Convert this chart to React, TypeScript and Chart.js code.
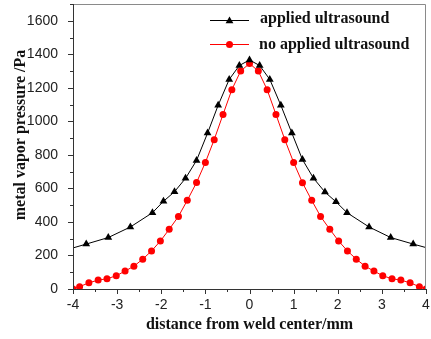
import React, { useEffect, useRef } from "react";
import { Chart, registerables } from "chart.js";

Chart.register(...registerables);

// Series: applied ultrasound (black triangles)
const xApplied = [-4, -3.7, -3.2, -2.7, -2.2, -1.95, -1.7, -1.45, -1.2, -0.95, -0.71, -0.46, -0.23, 0, 0.23, 0.46, 0.71, 0.96, 1.2, 1.45, 1.71, 1.96, 2.21, 2.71, 3.2, 3.71, 4];
const yApplied = [245, 268, 307, 370, 455, 523, 580, 660, 767, 930, 1096, 1250, 1333, 1366, 1333, 1250, 1096, 930, 772, 661, 578, 520, 455, 370, 307, 268, 247];

// Series: no applied ultrasound (red circles)
const xNone = [-4, -3.85, -3.64, -3.43, -3.23, -3.02, -2.82, -2.62, -2.42, -2.22, -2.02, -1.82, -1.61, -1.41, -1.2, -1.0, -0.8, -0.6, -0.4, -0.2, 0, 0.2, 0.4, 0.6, 0.8, 1.0, 1.2, 1.41, 1.61, 1.82, 2.02, 2.22, 2.42, 2.62, 2.82, 3.02, 3.23, 3.43, 3.64, 3.85, 4];
const yNone = [0, 14, 37, 53, 61, 79, 107, 136, 178, 227, 286, 356, 433, 529, 635, 755, 891, 1041, 1189, 1300, 1345, 1300, 1189, 1041, 891, 755, 634, 529, 433, 356, 286, 227, 178, 136, 107, 79, 61, 53, 37, 14, 0];

const seriesNames = ["applied ultrasound", "no applied ultrasound"];
const xTickValues = [-4, -3, -2, -1, 0, 1, 2, 3, 4];
const yTickValues = [0, 200, 400, 600, 800, 1000, 1200, 1400, 1600];
const xMinorValues = [-3.5, -2.5, -1.5, -0.5, 0.5, 1.5, 2.5, 3.5];
const yMinorValues = [100, 300, 500, 700, 900, 1100, 1300, 1500, 1700];
const xTitle = "distance from weld center/mm";
const yTitle = "metal vapor pressure /Pa";

const decorPlugin = {
  id: "decor",
  afterDraw(chart: any) {
    const ctx = chart.ctx;
    const { left, right, top, bottom } = chart.chartArea;
    const xs = chart.scales.x;
    const ys = chart.scales.y;
    ctx.save();
    ctx.lineWidth = 1;
    // frame top / right
    ctx.strokeStyle = "#8a8a8a";
    ctx.beginPath();
    ctx.moveTo(left, top + 0.5);
    ctx.lineTo(right - 0.5, top + 0.5);
    ctx.lineTo(right - 0.5, bottom);
    ctx.stroke();
    // axes
    ctx.strokeStyle = "#333";
    ctx.beginPath();
    ctx.moveTo(left + 0.5, top);
    ctx.lineTo(left + 0.5, bottom + 0.5);
    ctx.lineTo(right, bottom + 0.5);
    ctx.stroke();
    // ticks
    ctx.beginPath();
    for (const v of xTickValues) {
      const p = Math.round(xs.getPixelForValue(v)) + 0.5;
      ctx.moveTo(p, bottom);
      ctx.lineTo(p, bottom + 5);
    }
    for (const v of xMinorValues) {
      const p = Math.round(xs.getPixelForValue(v)) + 0.5;
      ctx.moveTo(p, bottom);
      ctx.lineTo(p, bottom + 3);
    }
    for (const v of yTickValues) {
      const p = Math.round(ys.getPixelForValue(v)) + 0.5;
      ctx.moveTo(left, p);
      ctx.lineTo(left - 5, p);
    }
    for (const v of yMinorValues) {
      const p = Math.round(ys.getPixelForValue(v)) + 0.5;
      ctx.moveTo(left, p);
      ctx.lineTo(left - 3, p);
    }
    ctx.stroke();

    // axis titles
    ctx.fillStyle = "#111";
    ctx.font = "bold 16px 'Liberation Serif', 'Times New Roman', serif";
    ctx.textAlign = "center";
    ctx.textBaseline = "middle";
    ctx.fillText(xTitle, (left + right) / 2, 325);
    ctx.save();
    ctx.translate(21, 135);
    ctx.rotate(-Math.PI / 2);
    ctx.fillText(yTitle, 0, 0);
    ctx.restore();

    // legend
    const rows = [
      { y: 20.5, color: "#000", style: "triangle", tx: 260, base: 23 },
      { y: 44.5, color: "#ff0000", style: "circle", tx: 259, base: 49 },
    ];
    rows.forEach((r, i) => {
      ctx.strokeStyle = r.color;
      ctx.fillStyle = r.color;
      ctx.lineWidth = 1;
      ctx.beginPath();
      ctx.moveTo(210, r.y);
      ctx.lineTo(249, r.y);
      ctx.stroke();
      if (r.style === "triangle") {
        const rad = 4.5;
        const cx = 229.5, cy = r.y + 0.5;
        ctx.beginPath();
        ctx.moveTo(cx, cy - rad);
        ctx.lineTo(cx + rad * 0.866, cy + rad / 2);
        ctx.lineTo(cx - rad * 0.866, cy + rad / 2);
        ctx.closePath();
        ctx.fill();
      } else {
        ctx.beginPath();
        ctx.arc(229.5, r.y, 3.5, 0, Math.PI * 2);
        ctx.fill();
      }
      ctx.fillStyle = "#111";
      ctx.font = "bold 16px 'Liberation Serif', 'Times New Roman', serif";
      ctx.textAlign = "left";
      ctx.textBaseline = "alphabetic";
      ctx.fillText(seriesNames[i], r.tx, r.base);
    });
    ctx.restore();
  },
};

export default function App() {
  const ref = useRef<HTMLCanvasElement>(null);
  useEffect(() => {
    document.body.style.margin = "0";
    const canvas = ref.current!;
    const endRadius = (n: number, r: number) => (ctx: any) =>
      ctx.dataIndex === 0 || ctx.dataIndex === n - 1 ? 0 : r;
    const chart = new Chart(canvas, {
      type: "line",
      data: {
        datasets: [
          {
            label: seriesNames[0],
            data: xApplied.map((x, i) => ({ x, y: yApplied[i] })),
            borderColor: "#000",
            backgroundColor: "#000",
            borderWidth: 1,
            pointStyle: "triangle",
            pointRadius: endRadius(xApplied.length, 4.5),
            pointBorderWidth: 0,
            tension: 0,
          },
          {
            label: seriesNames[1],
            data: xNone.map((x, i) => ({ x, y: yNone[i] })),
            borderColor: "#ff0000",
            backgroundColor: "#ff0000",
            borderWidth: 1,
            pointStyle: "circle",
            pointRadius: 3.5,
            pointBorderWidth: 0,
            tension: 0,
          },
        ],
      },
      options: {
        responsive: false,
        animation: false,
        layout: { padding: { left: 0, right: 5, top: 2, bottom: 0 } },
        plugins: { legend: { display: false }, tooltip: { enabled: false } },
        scales: {
          x: {
            type: "linear",
            min: -4,
            max: 4,
            grid: { display: false },
            border: { display: false },
            afterBuildTicks: (s: any) => {
              s.ticks = xTickValues.map((v) => ({ value: v }));
            },
            afterFit: (s: any) => {
              s.height = 50;
              s.paddingLeft = 0;
              s.paddingRight = 0;
            },
            ticks: {
              padding: 0,
              color: "#222",
              font: { family: "'Liberation Sans', Arial, sans-serif", size: 14 },
              callback: (v: any) => String(v),
            },
          },
          y: {
            type: "linear",
            min: 0,
            max: 1700,
            grid: { display: false },
            border: { display: false },
            afterBuildTicks: (s: any) => {
              s.ticks = yTickValues.map((v) => ({ value: v }));
            },
            afterFit: (s: any) => {
              s.width = 73;
              s.paddingTop = 0;
              s.paddingBottom = 0;
            },
            ticks: {
              padding: 7,
              color: "#222",
              font: { family: "'Liberation Sans', Arial, sans-serif", size: 14 },
              callback: (v: any) => String(v),
            },
          },
        },
      },
      plugins: [decorPlugin],
    });
    return () => chart.destroy();
  }, []);
  return (
    <canvas
      ref={ref}
      width={431}
      height={339}
      style={{ display: "block", position: "fixed", left: 0, top: 0, width: 431, height: 339 }}
    />
  );
}
